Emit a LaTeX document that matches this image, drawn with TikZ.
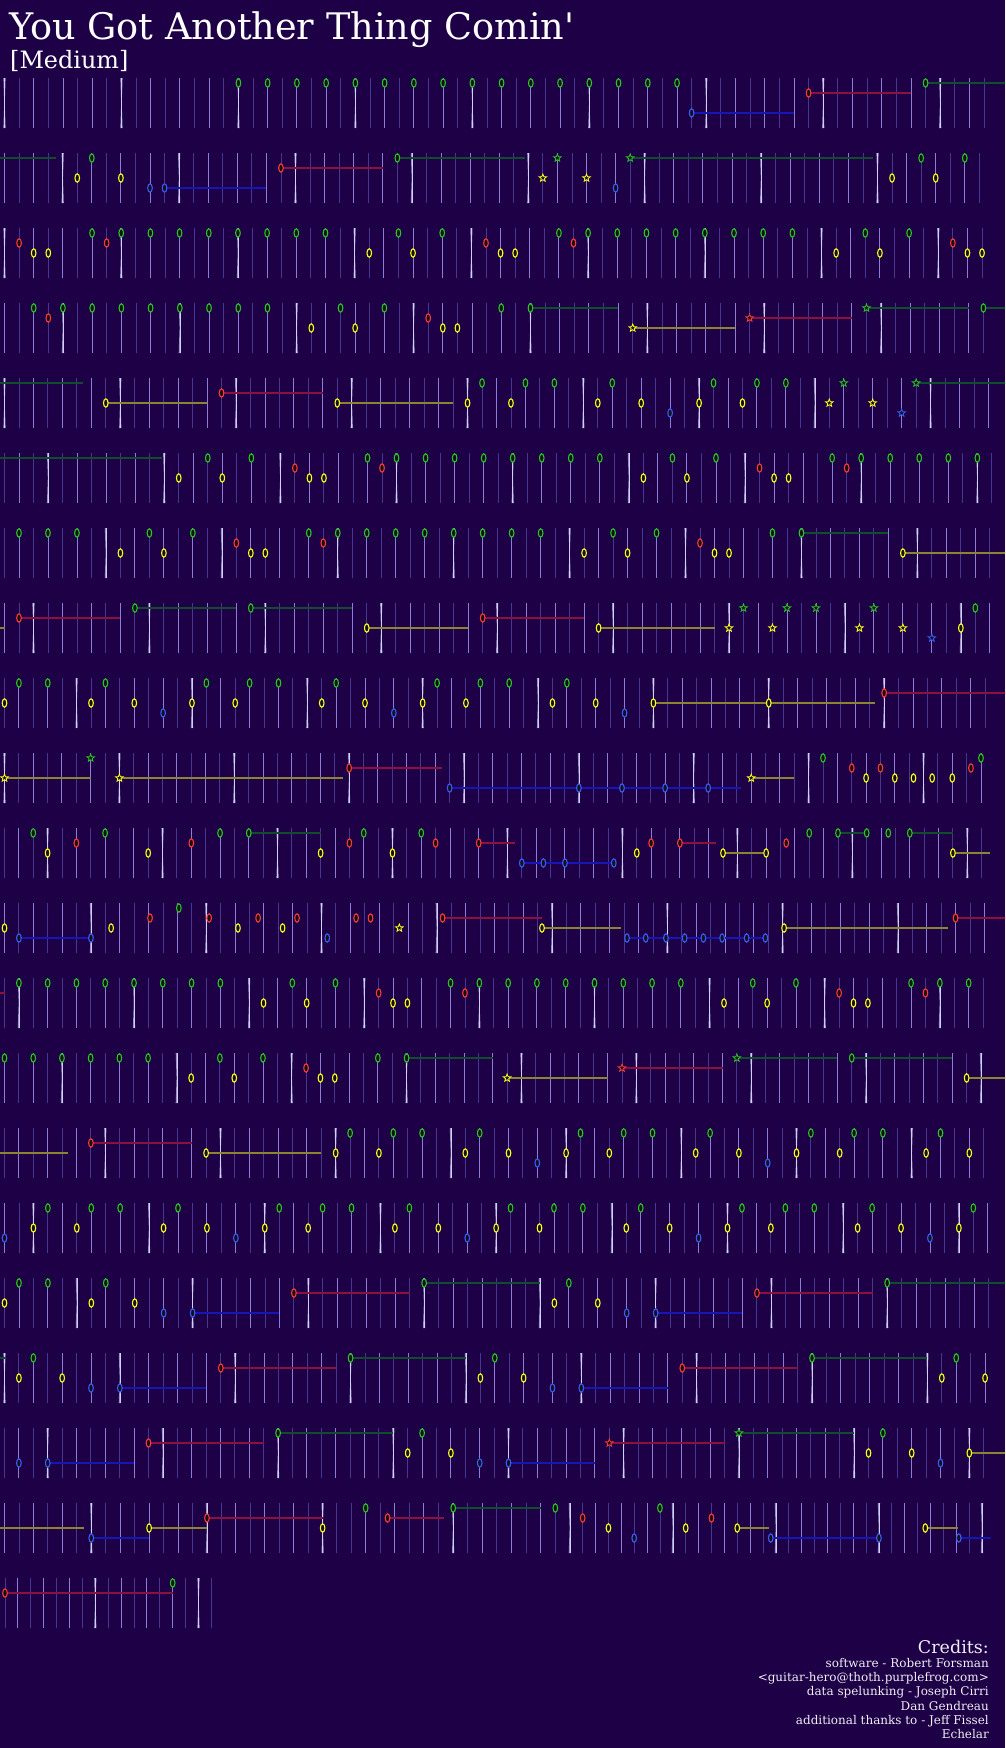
\documentclass[tikz,border=0pt]{standalone}
\usepackage{fontspec}
\setmainfont{DejaVu Serif}
\newfontfamily\plainserif{DejaVu Serif}
\definecolor{night}{HTML}{1E0046}
\definecolor{barwhite}{HTML}{D0D0FA}
\definecolor{quarterlav}{HTML}{8A7ED6}
\definecolor{eighthlav}{HTML}{46388E}
\definecolor{ngreen}{HTML}{2CC22C}
\definecolor{nred}{HTML}{FF3838}
\definecolor{nyellow}{HTML}{FFFF22}
\definecolor{nblue}{HTML}{3A5CFF}
\definecolor{tgreen}{HTML}{114C2C}
\definecolor{tred}{HTML}{8E1040}
\definecolor{tyellow}{HTML}{8C8432}
\definecolor{tblue}{HTML}{1616B8}
\definecolor{core}{HTML}{121212}
\definecolor{creditgray}{HTML}{EEEEF4}
\tikzset{
  titletext/.style={font=\plainserif\fontsize{36.6}{40}\selectfont, text=white, anchor=base west, inner sep=0pt},
  leveltext/.style={font=\plainserif\fontsize{23.9}{26}\selectfont, text=white, anchor=base west, inner sep=0pt},
  credithead/.style={font=\plainserif\fontsize{17.5}{20}\selectfont, text=creditgray, anchor=base east, inner sep=0pt},
  creditline/.style={font=\plainserif\fontsize{12}{14}\selectfont, text=creditgray, anchor=base east, inner sep=0pt},
  barline/.style={draw=barwhite, line width=0.6pt},
  barglow/.style={fill=barwhite!70!night},
  quarterline/.style={draw=quarterlav, line width=0.9pt},
  eighthline/.style={draw=eighthlav, line width=0.9pt},
  gnote/.style={draw=ngreen, fill=core, line width=1.1pt},
  rnote/.style={draw=nred, fill=core, line width=1.1pt},
  ynote/.style={draw=nyellow, fill=core, line width=1.1pt},
  bnote/.style={draw=nblue, fill=core, line width=1.1pt},
  gtail/.style={draw=tgreen, line width=2pt},
  rtail/.style={draw=tred, line width=2pt},
  ytail/.style={draw=tyellow, line width=2pt},
  btail/.style={draw=tblue, line width=2pt},
}
\def\laneg{5}\def\laner{15}\def\laney{25}\def\laneb{35}
% grid lines of one row: first index, last index, index of the first bar line
\newcommand{\gridseg}[3]{%
  \foreach \k in {#1,...,#2}{%
    \pgfmathsetmacro{\gx}{\rx+\k*\rdx}%
    \pgfmathtruncatemacro{\ph}{mod(\k-#3+80,8)}%
    \ifnum\ph=0
      \fill[barglow] (\gx-1.1,0) -- (\gx+1.1,0) -- (\gx+0.25,25) -- (\gx+1.1,50) -- (\gx-1.1,50) -- (\gx-0.25,25) -- cycle;
      \draw[barline] (\gx,0) -- (\gx,50);
    \else\ifodd\ph
      \draw[eighthline] (\gx,0) -- (\gx,50);
    \else
      \draw[quarterline] (\gx,0) -- (\gx,50);
    \fi\fi
  }}
\newcommand{\notes}[2]{\foreach \b in {#2}{\path[#1note] ({\rx+\b*\rdx},\csname lane#1\endcsname) ellipse (2.3 and 4.2);}}
\newcommand{\hold}[3]{\draw[#1tail] ({\rx+#2*\rdx},\csname lane#1\endcsname) -- ({\rx+#3*\rdx},\csname lane#1\endcsname);}
\newcommand{\stars}[2]{\foreach \b in {#2}{\path[#1note, line width=0.8pt] ({\rx+\b*\rdx},\csname lane#1\endcsname) +(-90:4) \foreach \i in {1,...,9}{ -- +({-90+36*\i}:{ifthenelse(isodd(\i),1.7,4)})} -- cycle;}}
\begin{document}
\begin{tikzpicture}[x=1pt,y=-1pt]
\fill[night] (0,0) rectangle (1005,1748);
\useasboundingbox (0,0) rectangle (1005,1748);
\clip (0,0) rectangle (1005,1748);
\node[titletext] (title) at (9,39) {You Got Another Thing Comin'};
\node[leveltext] (level) at (10,68) {[Medium]};

\begin{scope}[shift={(0,78)}]
\def\rx{4.5}\def\rdx{14.62}
\gridseg{0}{67}{0}
\hold{b}{47}{54}\hold{r}{55}{62}\hold{g}{63}{70}
\notes{g}{16,18,...,46,63}\notes{r}{55}\notes{b}{47}
\end{scope}

\begin{scope}[shift={(0,153)}]
\def\rx{4.5}\def\rdx{14.55}
\gridseg{0}{67}{4}
\hold{g}{-0.3}{3.55}\hold{b}{11}{18}\hold{r}{19}{26}\hold{g}{27}{35.8}\hold{g}{43}{59.7}
\notes{y}{5,8,61,64}\notes{g}{6,27,63,66}\notes{b}{10,11,42}\notes{r}{19}
\stars{y}{37,40}\stars{g}{38,43}
\end{scope}

\begin{scope}[shift={(0,228)}]
\def\rx{4.5}\def\rdx{14.59}
\gridseg{0}{67}{0}
\notes{r}{1,7,33,39,65}
\notes{y}{2,3,25,28,34,35,57,60,66,67}
\notes{g}{6,8,...,22,27,30,38,40,...,54,59,62}
\end{scope}

\begin{scope}[shift={(0,303)}]
\def\rx{4.5}\def\rdx{14.61}
\gridseg{0}{67}{4}
\hold{g}{36}{42}\hold{y}{43}{50}\hold{r}{51}{58}\hold{g}{59}{66}\hold{g}{67}{70}
\notes{g}{2,4,...,18,23,26,34,36,67}\notes{r}{3,29}\notes{y}{21,24,30,31}
\stars{y}{43}\stars{r}{51}\stars{g}{59}
\end{scope}

\begin{scope}[shift={(0,378)}]
\def\rx{4.5}\def\rdx{14.47}
\gridseg{0}{68}{0}
\hold{g}{-0.3}{5.4}\hold{y}{7}{14}\hold{r}{15}{22}\hold{y}{23}{31}\hold{g}{63}{70}
\notes{y}{7,23,32,35,41,44,48,51}\notes{r}{15}\notes{g}{33,36,38,42,49,52,54}\notes{b}{46}
\stars{y}{57,60}\stars{g}{58,63}\stars{b}{62}
\end{scope}

\begin{scope}[shift={(0,453)}]
\def\rx{4.5}\def\rdx{14.52}
\gridseg{0}{68}{3}
\hold{g}{-0.3}{10.85}
\notes{y}{12,15,21,22,44,47,53,54}
\notes{g}{14,17,25,27,...,41,46,49,57,59,...,67}
\notes{r}{20,26,52,58}
\end{scope}

\begin{scope}[shift={(0,528)}]
\def\rx{4.5}\def\rdx{14.49}
\gridseg{0}{68}{7}
\hold{g}{55}{61}\hold{y}{62}{70}
\notes{g}{1,3,5,10,13,21,23,...,37,42,45,53,55}
\notes{y}{8,11,17,18,40,43,49,50,62}
\notes{r}{16,22,48}
\end{scope}

\begin{scope}[shift={(0,603)}]
\def\rx{4.5}\def\rdx{14.49}
\gridseg{0}{68}{2}
\hold{y}{-0.35}{0}\hold{r}{1}{8}\hold{g}{9}{16}\hold{g}{17}{24}\hold{y}{25}{32}\hold{r}{33}{40}\hold{y}{41}{49}
\notes{r}{1,33}\notes{g}{9,17,67}\notes{y}{25,41,66}
\stars{y}{50,53,59,62}\stars{g}{51,54,56,60}\stars{b}{64}
\end{scope}

\begin{scope}[shift={(0,678)}]
\def\rx{4.5}\def\rdx{14.42}
\gridseg{0}{68}{5}
\hold{y}{45}{53}\hold{y}{53}{60.4}\hold{r}{61}{70}
\notes{y}{0,6,9,13,16,22,25,29,32,38,41,45,53}
\notes{g}{1,3,7,14,17,19,23,30,33,35,39}
\notes{b}{11,27,43}\notes{r}{61}
\end{scope}

\begin{scope}[shift={(0,753)}]
\def\rx{4.5}\def\rdx{14.36}
\gridseg{0}{68}{0}
\hold{y}{0}{6}\hold{y}{8}{23.6}\hold{r}{24}{30.5}\hold{b}{31}{51.3}\hold{y}{52}{55}
\notes{r}{24,59,61,67.3}\notes{b}{31,40,43,46,49}\notes{g}{57,68}\notes{y}{60,62,63.3,64.6,66}
\stars{y}{0,8,52}\stars{g}{6}
\end{scope}

\begin{scope}[shift={(0,828)}]
\def\rx{4.5}\def\rdx{14.37}
\gridseg{0}{68}{3}
\hold{g}{17}{22}\hold{r}{33}{35.5}\hold{b}{36}{42.4}\hold{r}{47}{49.5}\hold{y}{50}{53}\hold{g}{58}{60}\hold{g}{63}{66}\hold{y}{66}{68.6}
\notes{g}{2,7,15,17,25,29,56,58,60,61.5,63}
\notes{y}{3,10,22,27,44,50,53,66}
\notes{r}{5,13,24,30,33,45,47,54.4}
\notes{b}{36,37.5,39,42.4}
\end{scope}

\begin{scope}[shift={(0,903)}]
\def\rx{4.5}\def\rdx{14.41}
\gridseg{0}{68}{6}
\hold{b}{1}{6}\hold{r}{30.4}{37.3}\hold{y}{37.3}{42.8}\hold{b}{43.2}{52.8}\hold{y}{54.1}{65.5}\hold{r}{66}{70}
\notes{y}{0,7.4,16.2,19.3,37.3,54.1}
\notes{b}{1,6,22.4,43.2,44.5,45.9,47.2,48.5,49.8,51.5,52.8}
\notes{r}{10.1,14.2,17.6,20.3,24.4,25.4,30.4,66}
\notes{g}{12.1}\stars{y}{27.4}
\end{scope}

\begin{scope}[shift={(0,978)}]
\def\rx{4.5}\def\rdx{14.39}
\gridseg{0}{68}{1}
\hold{r}{-0.35}{0}
\notes{g}{1,3,...,15,20,23,31,33,...,47,52,55,63,65,67}
\notes{y}{18,21,27,28,50,53,59,60}
\notes{r}{26,32,58,64}
\end{scope}

\begin{scope}[shift={(0,1053)}]
\def\rx{4.5}\def\rdx{14.36}
\gridseg{0}{68}{4}
\hold{g}{28}{34}\hold{y}{35}{42}\hold{r}{43}{50}\hold{g}{51}{58}\hold{g}{59}{66}\hold{y}{67}{70}
\notes{g}{0,2,...,10,15,18,26,28,59}\notes{y}{13,16,22,23,67}\notes{r}{21}
\stars{y}{35}\stars{r}{43}\stars{g}{51}
\end{scope}

\begin{scope}[shift={(0,1128)}]
\def\rx{4.5}\def\rdx{14.40}
\gridseg{0}{68}{7}
\hold{y}{-0.3}{4.4}\hold{r}{6}{13}\hold{y}{14}{22}
\notes{r}{6}
\notes{y}{14,23,26,32,35,39,42,48,51,55,58,64,67}
\notes{g}{24,27,29,33,40,43,45,49,56,59,61,65}
\notes{b}{37,53}
\end{scope}

\begin{scope}[shift={(0,1203)}]
\def\rx{4.5}\def\rdx{14.46}
\gridseg{0}{68}{2}
\notes{b}{0,16,...,64}
\notes{y}{2,5,11,14,18,21,27,30,34,37,43,46,50,53,59,62,66}
\notes{g}{3,6,8,12,19,22,24,28,35,38,40,44,51,54,56,60,67}
\end{scope}

\begin{scope}[shift={(0,1278)}]
\def\rx{4.5}\def\rdx{14.47}
\gridseg{0}{68}{5}
\hold{b}{13}{19}\hold{r}{20}{28}\hold{g}{29}{37}\hold{b}{45}{51}\hold{r}{52}{60}\hold{g}{61}{70}
\notes{y}{0,6,9,38,41}\notes{g}{1,3,7,29,39,61}\notes{b}{11,13,43,45}\notes{r}{20,52}
\end{scope}

\begin{scope}[shift={(0,1353)}]
\def\rx{4.5}\def\rdx{14.42}
\gridseg{0}{68}{0}
\hold{g}{-0.35}{0}\hold{b}{8}{14}\hold{r}{15}{23}\hold{g}{24}{32}\hold{b}{40}{46}\hold{r}{47}{55}\hold{g}{56}{64}
\notes{y}{1,4,33,36,65,68}\notes{g}{2,24,34,56,66}\notes{b}{6,8,38,40}\notes{r}{15,47}
\end{scope}

\begin{scope}[shift={(0,1428)}]
\def\rx{4.5}\def\rdx{14.40}
\gridseg{0}{68}{3}
\hold{b}{3}{9}\hold{r}{10}{18}\hold{g}{19}{27}\hold{b}{35}{41}\hold{r}{42}{50}\hold{g}{51}{59}\hold{y}{67}{70}
\notes{b}{1,3,33,35,65}\notes{r}{10}\notes{g}{19,29,61}\notes{y}{28,31,60,63,67}
\stars{r}{42}\stars{g}{51}
\end{scope}

\begin{scope}[shift={(0,1503)}]
\def\rx{4.5}\def\rdx{14.46}
\gridseg{0}{22}{6}
\hold{y}{-0.3}{5.47}\hold{b}{6}{10}\hold{y}{10}{14}\hold{r}{14}{22}
\notes{b}{6}\notes{y}{10,22}\notes{r}{14}
\def\rx{321.8}\def\rdx{14.59}
\draw[eighthline] (336.4,0) -- (336.4,50);
\gridseg{2}{17}{1}
\def\rx{453.2}
\hold{r}{-4.5}{-0.6}\hold{g}{0}{6}
\notes{g}{-6,0,7}\notes{r}{-4.5}
\def\rx{569.8}\def\rdx{12.88}
\gridseg{1}{32}{0}
\hold{y}{13}{15.5}\hold{b}{15.6}{24}\hold{y}{27.6}{30.1}\hold{b}{30.2}{32.7}
\notes{r}{1,11}\notes{y}{3,9,13,27.6}\notes{b}{5,15.6,24,30.2}\notes{g}{7}
\end{scope}

\begin{scope}[shift={(0,1578)}]
\def\rx{5}\def\rdx{12.9}
\gridseg{0}{16}{7}
\hold{r}{0}{13}
\notes{r}{0}\notes{g}{13}
\end{scope}

\node[credithead] (credits) at (989,1653) {Credits:};
\foreach \t [count=\i] in {software - Robert Forsman, <guitar-hero@thoth.purplefrog.com>, data spelunking - Joseph Cirri, Dan Gendreau, additional thanks to - Jeff Fissel, Echelar}
  \node[creditline] (cred\i) at (989,{1653+14.3*\i}) {\t};
\end{tikzpicture}
\end{document}
